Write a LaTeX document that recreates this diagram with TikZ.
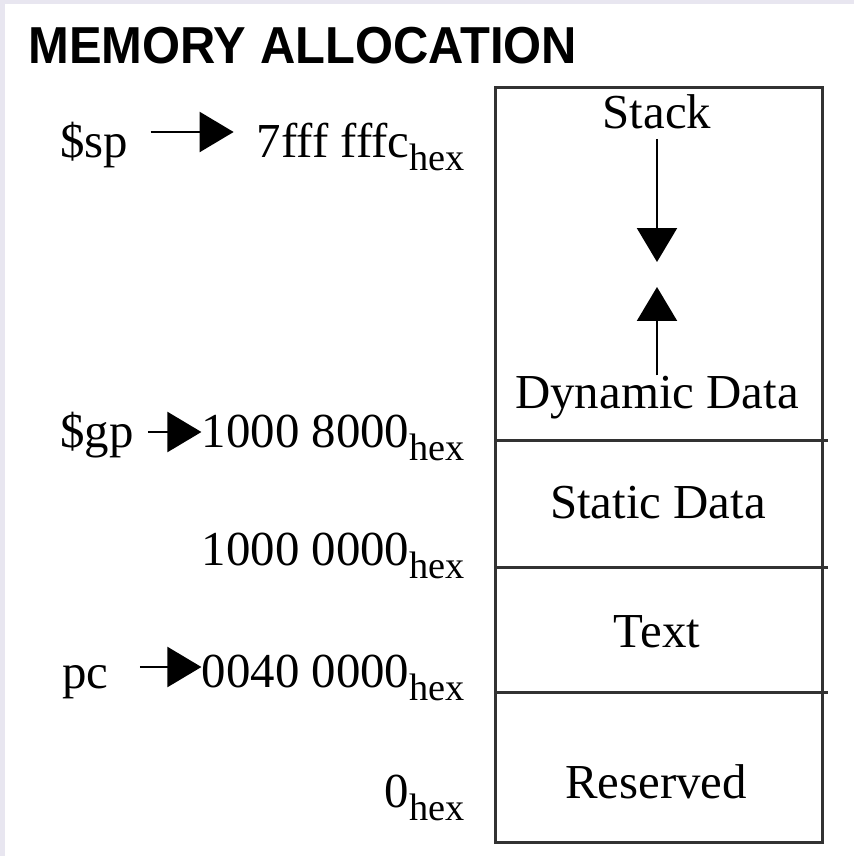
\documentclass[tikz,border=0pt]{standalone}
\usepackage{fontspec}
\setmainfont{Liberation Serif}
\newfontfamily\titlefont[FakeStretch=0.94]{Liberation Sans}
\usepackage{tikz}
\usetikzlibrary{arrows.meta,positioning}
\definecolor{marco}{RGB}{232,230,240}
\definecolor{linea}{RGB}{50,50,50}
\newcommand{\hexsub}{\raisebox{-0.26cm}{\fontsize{21.8pt}{22pt}\selectfont hex}}

\begin{document}
\begin{tikzpicture}[
  x=0.02cm, y=-0.02cm,
  every node/.style={inner sep=0pt, font=\fontsize{27.8pt}{32pt}\selectfont},
  dir/.style={anchor=base east},
  reg/.style={anchor=base west},
  zona/.style={anchor=base},
  ptr/.style={-{Triangle[length=0.68cm,width=0.8cm]}, line width=0.045cm},
  caja/.style={draw=linea, line width=0.06cm}
]
  \useasboundingbox (0,0) rectangle (854,856);
  \fill[marco] (0,0) rectangle (854,856);
  \fill[white] (5,4) rectangle (854,856);

  %% ── Titulo ────────────────────────────────────────────────
  \node[anchor=base west, font=\titlefont\bfseries\fontsize{29.6pt}{34pt}\selectfont]
    (titulo) at (28,63) {MEMORY ALLOCATION};

  %% ── Caja de memoria ───────────────────────────────────────
  \draw[caja] (495,87) rectangle (822,842);
  \foreach \y in {440,567,692}
    \draw[caja] (495,\y) -- (828,\y);

  \node[zona] (stack)    at (657,128) {Stack};
  \node[zona] (dyn)      at (657,408) {Dynamic Data};
  \node[zona] (static)   at (658,518) {Static Data};
  \node[zona] (text)     at (657,647) {Text};
  \node[zona] (reserved) at (656,798) {Reserved};

  %% ── Pila y heap crecen uno hacia el otro ──────────────────
  \coordinate (pila) at (657,262);
  \coordinate (heap) at (657,287);
  \draw[ptr, shorten <=0.2cm] (stack.south) -- (pila);
  \draw[ptr] (dyn.north) -- (heap);

  %% ── Direcciones ───────────────────────────────────────────
  \node[dir] (asp)   at (465,157) {7fff fffc\hexsub};
  \node[dir] (agp)   at (465,447) {1000 8000\hexsub};
  \node[dir] (adata) at (465,565) {1000 0000\hexsub};
  \node[dir] (apc)   at (465,687) {0040 0000\hexsub};
  \node[dir] (azero) at (465,807) {0\hexsub};

  %% ── Registros ─────────────────────────────────────────────
  \node[reg] (sp) at (60,157) {\$sp};
  \node[reg] (gp) at (60,447) {\$gp};
  \node[reg] (pc) at (62,688) {pc};

  \coordinate (fsp) at (0,132);
  \coordinate (fgp) at (0,432);
  \coordinate (fpc) at (0,667);
  \draw[ptr, shorten <=0.44cm, shorten >=0.46cm]
    (sp.east |- fsp) -- (asp.west |- fsp);
  \draw[ptr, shorten <=0.28cm]
    (gp.east |- fgp) -- (agp.west |- fgp);
  \draw[ptr, shorten <=0.62cm]
    (pc.east |- fpc) -- (apc.west |- fpc);

\end{tikzpicture}
\end{document}
